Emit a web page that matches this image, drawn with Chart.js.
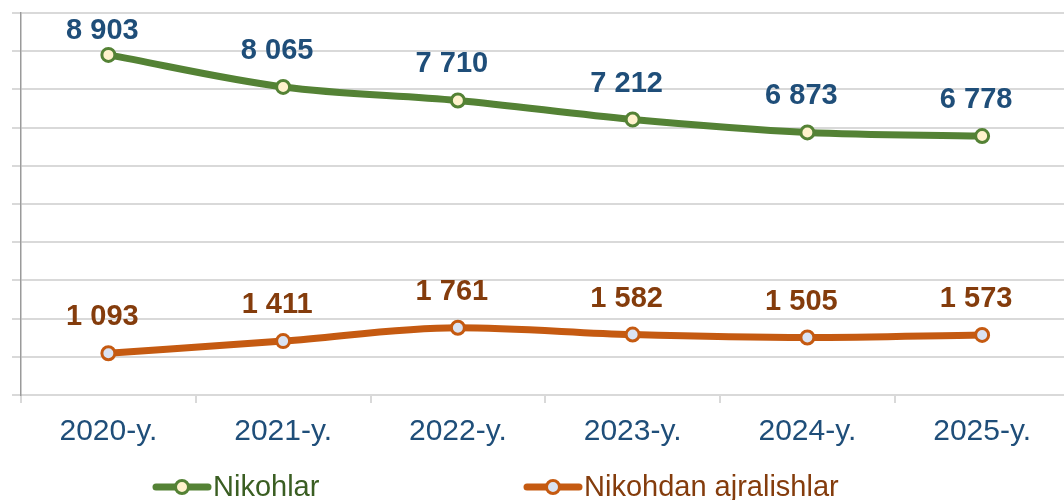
<!DOCTYPE html>
<html><head><meta charset="utf-8">
<script src="https://cdn.jsdelivr.net/npm/chart.js@4"></script>
<style>html,body{margin:0;padding:0;background:#fff;overflow:hidden;width:1064px;height:500px}#wrap{width:1064px;height:500px;overflow:hidden}</style>
</head><body><div id="wrap"><canvas id="c" width="1079" height="500"></canvas></div>
<script>
const categories = ["2020-y.","2021-y.","2022-y.","2023-y.","2024-y.","2025-y."];
const nikohlar = [8903, 8065, 7710, 7212, 6873, 6778];
const ajralishlar = [1093, 1411, 1761, 1582, 1505, 1573];
const seriesNames = ["Nikohlar", "Nikohdan ajralishlar"];
const labelColors = ["#1f4e79", "#843c0c"];
const legendTextColors = ["#3a5e22", "#843c0c"];
const fmt = v => String(v).replace(/\B(?=(\d{3})+(?!\d))/g, " ");

const labelPlugin = {
  id: 'lbl',
  afterDatasetsDraw(chart) {
    const ctx = chart.ctx;
    const top = chart.chartArea.top;
    ctx.save();
    ctx.font = 'bold 29px "Liberation Sans", Arial, sans-serif';
    ctx.textAlign = 'center';
    ctx.textBaseline = 'middle';
    chart.data.datasets.forEach((ds, i) => {
      const meta = chart.getDatasetMeta(i);
      ctx.fillStyle = labelColors[i];
      meta.data.forEach((pt, j) => {
        ctx.fillText(fmt(ds.data[j]), pt.x - 6, Math.max(pt.y - 36, top + 18));
      });
    });
    ctx.restore();
  }
};
const legendPlugin = {
  id: 'lgd',
  afterDraw(chart) {
    const ctx = chart.ctx;
    const starts = [153, 524];
    const y = 487;
    ctx.save();
    ctx.font = '29px "Liberation Sans", Arial, sans-serif';
    ctx.textBaseline = 'middle';
    chart.data.datasets.forEach((ds, i) => {
      const x0 = starts[i];
      ctx.strokeStyle = ds.borderColor;
      ctx.lineWidth = 7;
      ctx.lineCap = 'round';
      ctx.beginPath(); ctx.moveTo(x0 + 3, y); ctx.lineTo(x0 + 55, y); ctx.stroke();
      ctx.beginPath(); ctx.arc(x0 + 29, y, 6.5, 0, Math.PI * 2);
      ctx.fillStyle = ds.pointBackgroundColor; ctx.fill();
      ctx.lineWidth = 3; ctx.strokeStyle = ds.borderColor; ctx.stroke();
      ctx.fillStyle = legendTextColors[i];
      ctx.fillText(ds.label, x0 + 60, y + 1);
    });
    ctx.restore();
  }
};

new Chart(document.getElementById('c'), {
  type: 'line',
  data: {
    labels: categories,
    datasets: [
      { label: seriesNames[0], data: nikohlar, borderColor: '#548235', borderWidth: 7,
        pointBackgroundColor: '#fff2cc', pointBorderColor: '#548235', pointBorderWidth: 3,
        pointRadius: 6.5, tension: 0.3, cubicInterpolationMode: 'monotone' },
      { label: seriesNames[1], data: ajralishlar, borderColor: '#c55a11', borderWidth: 7,
        pointBackgroundColor: '#dae3f3', pointBorderColor: '#c55a11', pointBorderWidth: 3,
        pointRadius: 6.5, tension: 0.3, cubicInterpolationMode: 'monotone' }
    ]
  },
  options: {
    responsive: false,
    animation: false,
    layout: { padding: { left: 12, top: 13, right: 0, bottom: 39 } },
    plugins: { legend: { display: false }, tooltip: { enabled: false } },
    scales: {
      x: {
        offset: true,
        grid: { offset: true, drawOnChartArea: false, drawTicks: true, tickLength: 8, color: '#d9d9d9', lineWidth: 2 },
        border: { color: '#d9d9d9', width: 2 },
        ticks: { color: '#1f4e79', padding: 11, font: { family: '"Liberation Sans", Arial, sans-serif', size: 30 } }
      },
      y: {
        min: 0, max: 10000,
        grid: { color: '#d9d9d9', lineWidth: 2, tickLength: 9, drawTicks: true },
        border: { color: '#9a9a9a', width: 1.5 },
        ticks: { display: false, stepSize: 1000 }
      }
    }
  },
  plugins: [labelPlugin, legendPlugin]
});
</script></body></html>
